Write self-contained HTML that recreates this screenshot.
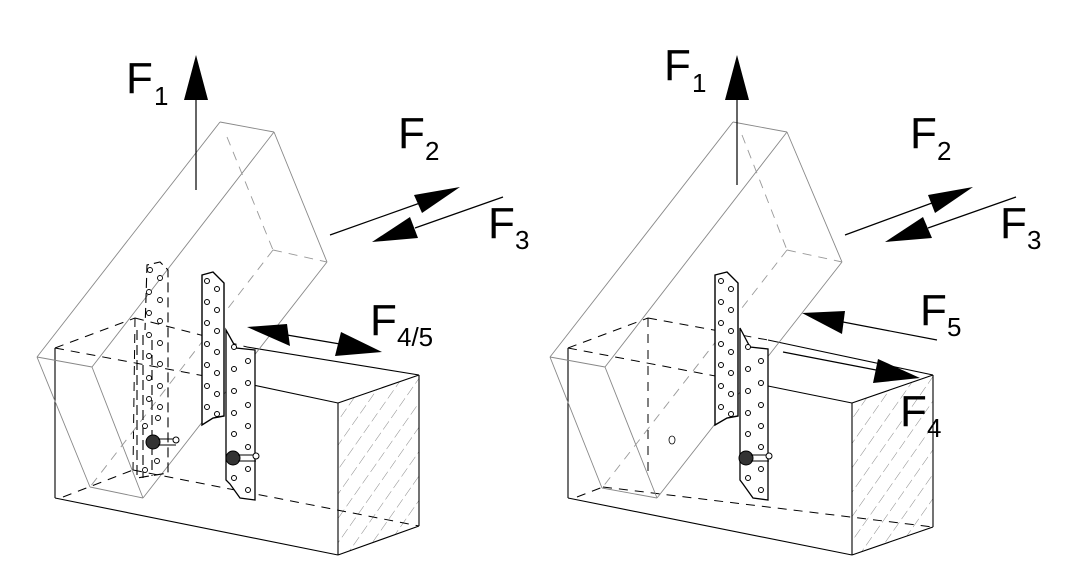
<!DOCTYPE html>
<html><head><meta charset="utf-8"><style>
html,body{margin:0;padding:0;background:#fff;}
svg{display:block;}
text{font-family:"Liberation Sans",Arial,sans-serif;fill:#000;}
</style></head><body>
<svg width="1080" height="582" viewBox="0 0 1080 582" xmlns="http://www.w3.org/2000/svg">
<defs>
<pattern id="hatch" width="14" height="14" patternUnits="userSpaceOnUse" patternTransform="rotate(35)">
<line x1="0" y1="0" x2="0" y2="14" stroke="#555" stroke-width="0.7" stroke-dasharray="6,4"/>
</pattern>
</defs>

<!-- ===== LEFT FIGURE ===== -->
<g fill="none">
<!-- lower beam -->
<polygon points="338,403 419,375 419,526 338,555" fill="url(#hatch)" stroke="none"/>
<g stroke="#000" stroke-width="1.1">
<line x1="55" y1="348" x2="55" y2="498"/>
<line x1="55" y1="498" x2="338" y2="555"/>
<line x1="338" y1="403" x2="338" y2="555"/>
<line x1="338" y1="403" x2="419" y2="375"/>
<line x1="419" y1="375" x2="419" y2="526"/>
<line x1="419" y1="526" x2="338" y2="555"/>
<line x1="419" y1="375" x2="247" y2="347"/>
<line x1="253" y1="385" x2="338" y2="403"/>
</g>
<g stroke="#000" stroke-width="1" stroke-dasharray="9,7">
<line x1="55" y1="348" x2="253" y2="385"/>
<line x1="55" y1="348" x2="135" y2="318"/>
<line x1="135" y1="318" x2="247" y2="347"/>
<line x1="135" y1="318" x2="133" y2="470"/>
<line x1="133" y1="470" x2="419" y2="526"/>
<line x1="63" y1="497" x2="133" y2="470"/>
</g>
<!-- rafter -->
<g stroke="#888" stroke-width="0.9">
<line x1="220" y1="122" x2="274" y2="132"/>
<line x1="274" y1="132" x2="327" y2="262"/>
<line x1="220" y1="122" x2="37" y2="357"/>
<line x1="37" y1="357" x2="92" y2="367"/>
<line x1="92" y1="367" x2="274" y2="132"/>
<line x1="92" y1="367" x2="143" y2="498"/>
<line x1="143" y1="498" x2="327" y2="262"/>
<line x1="37" y1="357" x2="90" y2="487"/>
<line x1="90" y1="487" x2="143" y2="498"/>
</g>
<g stroke="#999" stroke-width="0.9" stroke-dasharray="9,7">
<line x1="227" y1="137" x2="273" y2="250"/>
<line x1="273" y1="250" x2="327" y2="262"/>
<line x1="273" y1="250" x2="90" y2="487"/>
</g>
<!-- rear strap dashed -->
<g stroke="#000" stroke-width="1.1" stroke-dasharray="10,5">
<polyline points="137,330 137,478 168,473 168,270 160,262 147,265 145,330"/>
<line x1="143" y1="335" x2="143" y2="478"/>
<line x1="152" y1="340" x2="152" y2="476"/>
</g>
<g stroke="#000" stroke-width="0.9" fill="#fff">
<circle cx="150" cy="270" r="2.5"/><circle cx="160" cy="278" r="2.5"/>
<circle cx="149" cy="292" r="2.5"/><circle cx="160" cy="300" r="2.5"/>
<circle cx="149" cy="313" r="2.5"/><circle cx="160" cy="321" r="2.5"/>
<circle cx="149" cy="335" r="2.5"/><circle cx="160" cy="343" r="2.5"/>
<circle cx="149" cy="356" r="2.5"/><circle cx="160" cy="364" r="2.5"/>
<circle cx="149" cy="378" r="2.5"/><circle cx="160" cy="386" r="2.5"/>
<circle cx="149" cy="399" r="2.5"/><circle cx="160" cy="407" r="2.5"/>
<circle cx="145" cy="426" r="2.5"/><circle cx="158" cy="418" r="2.5"/>
<circle cx="157" cy="461" r="2.5"/><circle cx="145" cy="470" r="2.5"/>
</g>
<!-- front strap B -->
<polygon points="226,330 236,348 255,350 255,500 240,498 230,484 226,480" fill="#fff" stroke="#000" stroke-width="1.3"/>
<!-- front strap A -->
<polygon points="202,275 213,272 224,283 224,416 213,418 202,425" fill="#fff" stroke="#000" stroke-width="1.4"/>
<g stroke="#000" stroke-width="1" fill="#fff">
<circle cx="207" cy="281" r="2.5"/><circle cx="217" cy="289" r="2.5"/>
<circle cx="207" cy="302" r="2.5"/><circle cx="217" cy="310" r="2.5"/>
<circle cx="207" cy="323" r="2.5"/><circle cx="217" cy="331" r="2.5"/>
<circle cx="207" cy="344" r="2.5"/><circle cx="217" cy="352" r="2.5"/>
<circle cx="207" cy="365" r="2.5"/><circle cx="217" cy="373" r="2.5"/>
<circle cx="207" cy="386" r="2.5"/><circle cx="217" cy="394" r="2.5"/>
<circle cx="207" cy="407" r="2.5"/><circle cx="217" cy="414" r="2.5"/>
<circle cx="234" cy="347" r="2.5"/><circle cx="248" cy="361" r="2.5"/>
<circle cx="234" cy="369" r="2.5"/><circle cx="248" cy="383" r="2.5"/>
<circle cx="234" cy="391" r="2.5"/><circle cx="248" cy="405" r="2.5"/>
<circle cx="234" cy="413" r="2.5"/><circle cx="248" cy="426" r="2.5"/>
<circle cx="234" cy="434" r="2.5"/><circle cx="248" cy="447" r="2.5"/>
<circle cx="248" cy="469" r="2.5"/><circle cx="234" cy="478" r="2.5"/>
<circle cx="248" cy="490" r="2.5"/>
</g>
<!-- bolts -->
<g stroke="#000" stroke-width="1">
<circle cx="233" cy="458" r="7" fill="#333"/>
<circle cx="153" cy="442" r="7" fill="#333"/>
<path d="M238,455 h18 M238,461 h18" /><circle cx="256" cy="456" r="3" fill="#fff"/>
<path d="M158,439 h18 M158,445 h18" /><circle cx="176" cy="440" r="3" fill="#fff"/>
</g>
<!-- arrows -->
<g stroke="#000" stroke-width="1.2">
<line x1="196" y1="190" x2="196" y2="95"/>
<line x1="330" y1="235" x2="420" y2="203"/>
<line x1="415" y1="228" x2="503" y2="197"/>
<line x1="287" y1="335" x2="340" y2="344"/>
</g>
<g fill="#000">
<polygon points="196,55 184,100 208,100"/>
<polygon points="460,187 414,195 422,213"/>
<polygon points="372,242 410,217 418,238"/>
<polygon points="247,327 287,324 290,346"/>
<polygon points="382,352 341,332 335,356"/>
</g>
</g>
<text x="126" y="93" font-size="44">F</text><text x="154" y="105" font-size="26">1</text>
<text x="398" y="148" font-size="44">F</text><text x="425" y="160" font-size="26">2</text>
<text x="488" y="238" font-size="44">F</text><text x="515" y="249" font-size="26">3</text>
<text x="370" y="335" font-size="44">F</text><text x="397" y="346" font-size="26">4/5</text>

<!-- ===== RIGHT FIGURE ===== -->
<g fill="none">
<polygon points="852,403 933,375 933,527 852,555" fill="url(#hatch)" stroke="none"/>
<g stroke="#000" stroke-width="1.1">
<line x1="568" y1="348" x2="568" y2="498"/>
<line x1="568" y1="498" x2="852" y2="555"/>
<line x1="852" y1="403" x2="852" y2="555"/>
<line x1="852" y1="403" x2="933" y2="375"/>
<line x1="933" y1="375" x2="933" y2="527"/>
<line x1="933" y1="527" x2="852" y2="555"/>
<line x1="933" y1="375" x2="768" y2="340"/>
<line x1="768" y1="386" x2="852" y2="403"/>
</g>
<g stroke="#000" stroke-width="1" stroke-dasharray="9,7">
<line x1="568" y1="348" x2="768" y2="386"/>
<line x1="568" y1="348" x2="648" y2="318"/>
<line x1="648" y1="318" x2="768" y2="340"/>
<line x1="648" y1="318" x2="648" y2="472"/>
<line x1="603" y1="487" x2="933" y2="527"/>
<line x1="577" y1="497" x2="603" y2="487"/>
</g>
<g stroke="#888" stroke-width="0.9">
<line x1="733" y1="122" x2="787" y2="132"/>
<line x1="787" y1="132" x2="842" y2="262"/>
<line x1="733" y1="122" x2="550" y2="357"/>
<line x1="550" y1="357" x2="605" y2="367"/>
<line x1="605" y1="367" x2="787" y2="132"/>
<line x1="605" y1="367" x2="657" y2="498"/>
<line x1="657" y1="498" x2="842" y2="262"/>
<line x1="550" y1="357" x2="602" y2="488"/>
<line x1="602" y1="488" x2="657" y2="498"/>
</g>
<g stroke="#999" stroke-width="0.9" stroke-dasharray="9,7">
<line x1="742" y1="135" x2="787" y2="250"/>
<line x1="787" y1="250" x2="842" y2="262"/>
<line x1="787" y1="250" x2="602" y2="488"/>
</g>
<ellipse cx="672" cy="440" rx="3" ry="4" stroke="#000" stroke-width="0.8"/>
<polygon points="740,328 750,347 768,349 768,500 753,498 743,484 740,480" fill="#fff" stroke="#000" stroke-width="1.3"/>
<polygon points="715,275 727,272 738,283 738,416 727,418 715,425" fill="#fff" stroke="#000" stroke-width="1.4"/>
<g stroke="#000" stroke-width="1" fill="#fff">
<circle cx="721" cy="281" r="2.5"/><circle cx="731" cy="289" r="2.5"/>
<circle cx="721" cy="302" r="2.5"/><circle cx="731" cy="310" r="2.5"/>
<circle cx="721" cy="323" r="2.5"/><circle cx="731" cy="331" r="2.5"/>
<circle cx="721" cy="344" r="2.5"/><circle cx="731" cy="352" r="2.5"/>
<circle cx="721" cy="365" r="2.5"/><circle cx="731" cy="373" r="2.5"/>
<circle cx="721" cy="386" r="2.5"/><circle cx="731" cy="394" r="2.5"/>
<circle cx="721" cy="407" r="2.5"/><circle cx="731" cy="414" r="2.5"/>
<circle cx="748" cy="347" r="2.5"/><circle cx="761" cy="361" r="2.5"/>
<circle cx="748" cy="369" r="2.5"/><circle cx="761" cy="383" r="2.5"/>
<circle cx="748" cy="391" r="2.5"/><circle cx="761" cy="405" r="2.5"/>
<circle cx="748" cy="413" r="2.5"/><circle cx="761" cy="426" r="2.5"/>
<circle cx="748" cy="434" r="2.5"/><circle cx="761" cy="447" r="2.5"/>
<circle cx="761" cy="469" r="2.5"/><circle cx="748" cy="478" r="2.5"/>
<circle cx="761" cy="490" r="2.5"/>
</g>
<g stroke="#000" stroke-width="1">
<circle cx="746" cy="458" r="7" fill="#333"/>
<path d="M751,455 h18 M751,461 h18"/><circle cx="769" cy="456" r="3" fill="#fff"/>
</g>
<g stroke="#000" stroke-width="1.2">
<line x1="737" y1="185" x2="737" y2="95"/>
<line x1="845" y1="235" x2="932" y2="203"/>
<line x1="928" y1="228" x2="1016" y2="197"/>
<line x1="843" y1="322" x2="937" y2="340"/>
<line x1="783" y1="352" x2="876" y2="370"/>
</g>
<g fill="#000">
<polygon points="737,55 725,100 749,100"/>
<polygon points="973,187 928,195 935,213"/>
<polygon points="885,242 923,217 932,238"/>
<polygon points="802,313 845,311 842,334"/>
<polygon points="920,378 878,359 873,383"/>
</g>
</g>
<text x="664" y="80" font-size="44">F</text><text x="692" y="92" font-size="26">1</text>
<text x="910" y="148" font-size="44">F</text><text x="937" y="160" font-size="26">2</text>
<text x="1000" y="238" font-size="44">F</text><text x="1027" y="249" font-size="26">3</text>
<text x="920" y="325" font-size="44">F</text><text x="947" y="336" font-size="26">5</text>
<text x="900" y="426" font-size="44">F</text><text x="927" y="437" font-size="26">4</text>
</svg>
</body></html>
